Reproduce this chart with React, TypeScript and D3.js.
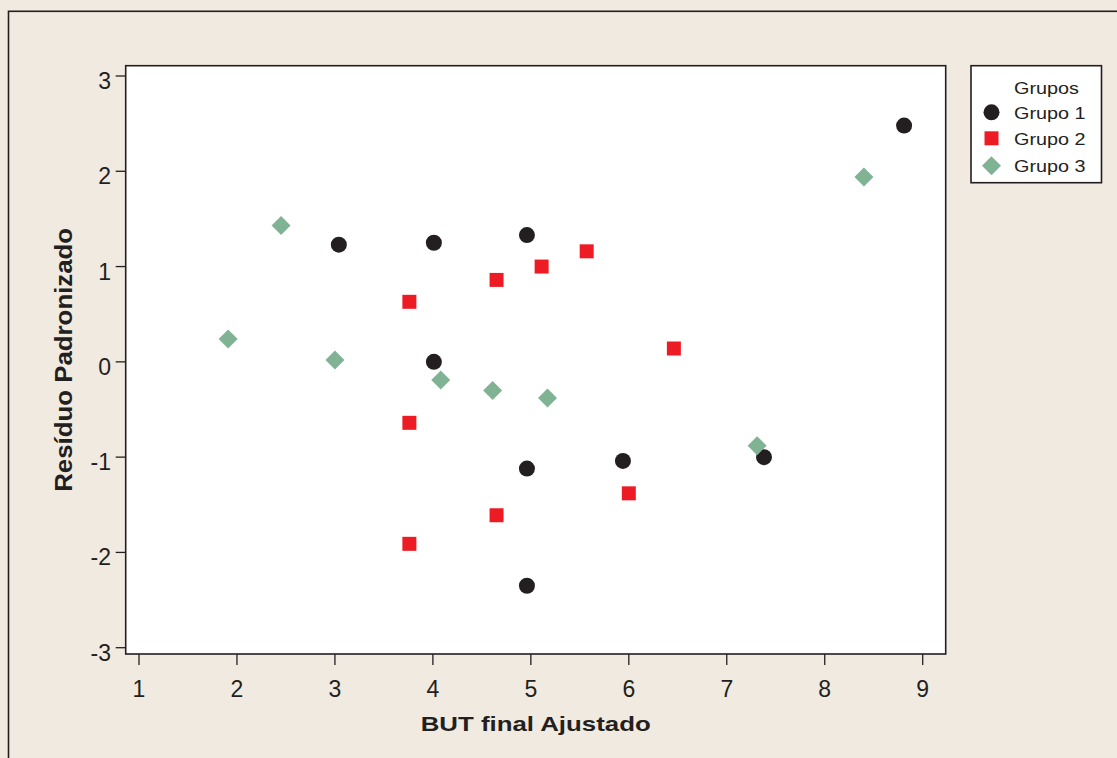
import React from "react";
import * as d3 from "d3";

// values
const groupNames = ["Grupo 1", "Grupo 2", "Grupo 3"];
const grupo1X = [3.04, 4.01, 4.96, 4.01, 4.96, 5.94, 7.38, 4.96, 8.81];
const grupo1Y = [1.23, 1.25, 1.33, 0.0, -1.12, -1.04, -1.0, -2.35, 2.48];
const grupo2X = [3.76, 4.65, 5.11, 5.57, 6.46, 3.76, 6.0, 4.65, 3.76];
const grupo2Y = [0.63, 0.86, 1.0, 1.16, 0.14, -0.64, -1.38, -1.61, -1.91];
const grupo3X = [1.91, 2.45, 3.0, 4.08, 4.61, 5.17, 7.31, 8.4];
const grupo3Y = [0.24, 1.43, 0.02, -0.19, -0.3, -0.38, -0.88, 1.94];
const xTicks = [1, 2, 3, 4, 5, 6, 7, 8, 9];
const yTicks = [-3, -2, -1, 0, 1, 2, 3];
const xTitle = "BUT final Ajustado";
const yTitle = "Resíduo Padronizado";
const legendTitle = "Grupos";

const W = 1117;
const H = 758;
const frame = { left: 125.7, right: 945.7, top: 65.7, bottom: 654 };
const font = "'Liberation Sans', Arial, Helvetica, sans-serif";
const ink = "#231f20";
const colors = ["#231f20", "#ed1c24", "#80b394"];

const symbolFor = [
  d3.symbol().type(d3.symbolCircle).size(201)(),
  d3.symbol().type(d3.symbolSquare).size(196)(),
  d3.symbol().type(d3.symbolSquare).size(180)(),
];
const rotateFor = [0, 0, 45];

function Marker({ g, x, y }: { g: number; x: number; y: number }) {
  return (
    <path
      d={symbolFor[g] ?? undefined}
      transform={`translate(${x},${y}) rotate(${rotateFor[g]})`}
      fill={colors[g]}
    />
  );
}

export default function App() {
  const xScale = d3.scaleLinear().domain([1, 9]).range([139, 922.7]);
  const yScale = d3.scaleLinear().domain([-3, 3]).range([647.7, 76]);

  const series = [
    d3.zip(grupo1X, grupo1Y),
    d3.zip(grupo2X, grupo2Y),
    d3.zip(grupo3X, grupo3Y),
  ];

  const legendY = [112.3, 138.3, 165.7];

  return (
    <div style={{ position: "absolute", left: 0, top: 0 }}>
      <svg width={W} height={H} style={{ display: "block", fontFamily: font }}>
        <rect x={0} y={0} width={W} height={H} fill="#f1eae0" />
        {/* outer frame, right and bottom edges fall outside the picture */}
        <rect x={8.5} y={11.3} width={W + 20} height={H + 20} fill="none" stroke={ink} strokeWidth={1.6} />

        <rect
          x={frame.left}
          y={frame.top}
          width={frame.right - frame.left}
          height={frame.bottom - frame.top}
          fill="#fff"
          stroke={ink}
          strokeWidth={1.6}
        />

        {xTicks.map(t => (
          <g key={"x" + t}>
            <line x1={xScale(t)} x2={xScale(t)} y1={frame.bottom} y2={frame.bottom + 11} stroke={ink} strokeWidth={1.3} />
            <text x={xScale(t)} y={frame.bottom + 43} textAnchor="middle" fontSize={23} fill={ink}>
              {t}
            </text>
          </g>
        ))}
        {yTicks.map(t => (
          <g key={"y" + t}>
            <line x1={frame.left - 10} x2={frame.left} y1={yScale(t)} y2={yScale(t)} stroke={ink} strokeWidth={1.3} />
            <text x={111} y={yScale(t) + 13} textAnchor="end" fontSize={23} fill={ink}>
              {t}
            </text>
          </g>
        ))}

        <text
          x={(frame.left + frame.right) / 2}
          y={731}
          textAnchor="middle"
          fontSize={21}
          fontWeight="bold"
          fill={ink}
          textLength={230}
          lengthAdjust="spacingAndGlyphs"
        >
          {xTitle}
        </text>
        <text
          transform={`translate(72,${(frame.top + frame.bottom) / 2}) rotate(-90)`}
          textAnchor="middle"
          fontSize={24}
          fontWeight="bold"
          fill={ink}
          textLength={264}
          lengthAdjust="spacingAndGlyphs"
        >
          {yTitle}
        </text>

        {series.map((pts, g) =>
          pts.map(([x, y], i) => <Marker key={g + "-" + i} g={g} x={xScale(x)} y={yScale(y)} />),
        )}

        <rect x={971} y={65.7} width={130.5} height={117} fill="#fff" stroke={ink} strokeWidth={1.6} />
        <text x={1014} y={94} fontSize={17} fill={ink} textLength={65} lengthAdjust="spacingAndGlyphs">
          {legendTitle}
        </text>
        {groupNames.map((name, g) => (
          <g key={name}>
            <Marker g={g} x={991.5} y={legendY[g]} />
            <text x={1014} y={legendY[g] + 6.5} fontSize={17} fill={ink} textLength={71.5} lengthAdjust="spacingAndGlyphs">
              {name}
            </text>
          </g>
        ))}
      </svg>
    </div>
  );
}
